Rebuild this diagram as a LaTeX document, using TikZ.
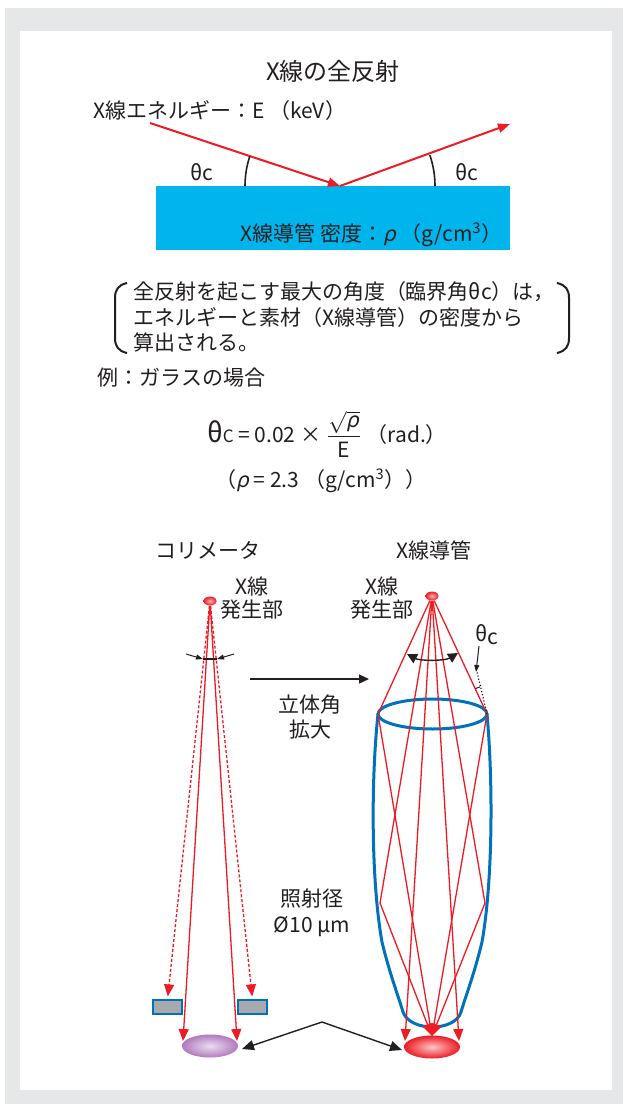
\documentclass[tikz,border=0pt]{standalone}
\usepackage{amsmath}
\usepackage{fontspec}
\setmainfont{Noto Sans CJK JP}[AutoFakeSlant=0.2]
\usetikzlibrary{arrows.meta,shapes.geometric}

\definecolor{ink}{RGB}{35,31,32}
\definecolor{rayred}{RGB}{237,28,36}
\definecolor{glasscyan}{RGB}{0,180,236}
\definecolor{tubeblue}{RGB}{0,114,188}
\definecolor{blockgray}{RGB}{167,169,172}
\definecolor{framegray}{RGB}{230,231,232}
\definecolor{spotpurple}{RGB}{176,122,190}

\tikzset{
  beam/.style={draw=rayred, line width=1pt, -{Triangle[length=6pt,width=4.5pt]}},
  ray/.style={draw=rayred, line width=0.65pt},
  redtip/.style={-{Triangle[length=6pt,width=5pt]}},
  dots/.style={dash pattern=on 1.5pt off 1pt},
  tube/.style={draw=tubeblue, line width=1.5pt},
  guide/.style={fill=glasscyan, minimum width=177pt, minimum height=32pt},
  block/.style={draw=tubeblue, fill=blockgray, line width=0.6pt, minimum width=14.5pt, minimum height=7pt},
  source/.style={ellipse, minimum width=6.5pt, minimum height=4.5pt, shading=radial, inner color=rayred!35!white, outer color=rayred},
  spot/.style={ellipse, minimum width=28pt, minimum height=11.5pt},
  anglemark/.style={draw=ink, line width=0.8pt},
  bigtip/.style={-{Triangle[length=6pt,width=5pt]}},
  smalltip/.style={-{Triangle[length=3.5pt,width=2.5pt]}},
}

\begin{document}
\begin{tikzpicture}[x=0.5pt,y=-0.5pt,
  every node/.style={font=\fontsize{10.5}{12.5}\selectfont, text=ink, inner sep=0pt}]

% frame
\useasboundingbox (0,0) rectangle (629,1113);
\fill[framegray] (5,8) rectangle (623,1104);
\fill[white] (20,31) rectangle (612,1090);

% --- total reflection ---
\node[font=\fontsize{12}{14}\selectfont] (title) at (333,71) {X線の全反射};
\node[anchor=west] (energy) at (93,111) {X線エネルギー：E （keV）};
\node[guide] (glass) at (333,218) {};
\node[anchor=east] (density) at (503,235) {X線導管 密度：\textit{ρ} （g/cm\textsuperscript{3}）};

\coordinate (hit) at (340,186);
\coordinate (xin) at (150,123);
\coordinate (xout) at (510,124);
\draw[beam] (xin) -- (hit);
\draw[beam] (hit) -- (xout);
\draw[anglemark] (hit) ++(180:95) arc[start angle=180, end angle=198.3, radius=95];
\draw[anglemark] (hit) ++(0:95) arc[start angle=0, end angle=-19, radius=95];
\node (thL) at (202,172) {θc};
\node (thR) at (467,172) {θc};

% note in brackets
\node[anchor=west, align=left, font=\fontsize{10.5}{12.75}\selectfont] (note) at (133,317)
  {全反射を起こす最大の角度（臨界角θc）は，\\エネルギーと素材（X線導管）の密度から\\算出される。};
\draw[anglemark, line width=1pt] (127,283) .. controls (118,285) and (115,290) .. (115,298) -- (115,338)
  .. controls (115,346) and (118,351) .. (127,353);
\draw[anglemark, line width=1pt] (557,283) .. controls (566,285) and (569,290) .. (569,298) -- (569,338)
  .. controls (569,346) and (566,351) .. (557,353);

\node[anchor=west] (example) at (97,378) {例：ガラスの場合};
\node (formula) at (327,434) {{\fontsize{13.5}{14}\selectfont θ}{\fontsize{8.5}{9}\selectfont C} = 0.02 × $\dfrac{\sqrt{\text{\itshape ρ}}}{\text{E}}$ （rad.）};
\node (glassrho) at (321,481) {（\textit{ρ} = 2.3 （g/cm\textsuperscript{3}））};

% --- collimator ---
\node (colli) at (208,550) {コリメータ};
\node[align=center, font=\fontsize{10.5}{11.5}\selectfont] (gen1) at (252,598) {X線\\発生部};
\node[block] (blk1) at (167.5,1007) {};
\node[block] (blk2) at (252.5,1007) {};
\node[spot, shading=radial, inner color=spotpurple!25!white, outer color=spotpurple] (spot1) at (210,1046) {};
\node[source] (src1) at (210,601) {};

\coordinate (c1) at (183,1041);
\coordinate (c2) at (237,1041);
\draw[ray, redtip] (src1) -- (c1);
\draw[ray, redtip] (src1) -- (c2);
\draw[ray, dots, redtip, shorten >=1.5pt] (src1) -- (blk1.north);
\draw[ray, dots, redtip, shorten >=1.5pt] (src1) -- (blk2.north);

\coordinate (apL) at (186,654);
\coordinate (apR) at (234,654);
\coordinate (gapL) at (203,659);
\coordinate (gapR) at (217,659);
\draw[draw=ink, line width=0.5pt, smalltip] (apL) -- (gapL);
\draw[draw=ink, line width=0.5pt, smalltip] (apR) -- (gapR);
\draw[draw=ink, line width=0.6pt] (gapL) -- (gapR);

% --- middle ---
\coordinate (ma) at (250,679);
\coordinate (mb) at (369,679);
\draw[draw=ink, line width=0.6pt, -{Triangle[length=5pt,width=4.5pt]}] (ma) -- (mb);
\node[align=center] (solid) at (310,717) {立体角\\拡大};
\node[align=center, font=\fontsize{10.5}{13}\selectfont] (diam) at (312,913) {照射径\\Ø10 µm};

% --- X-ray guide tube ---
\node (guidett) at (434,550) {X線導管};
\node[align=center, font=\fontsize{10.5}{11.5}\selectfont] (gen2) at (382,598) {X線\\発生部};
\draw[tube] (378,714) .. controls (371,780) and (371,880) .. (382,942)
  .. controls (390,975) and (398,995) .. (403,1012)
  .. controls (410,1032) and (455,1032) .. (461,1012)
  .. controls (466,995) and (474,975) .. (482,942)
  .. controls (493,880) and (493,780) .. (487,714);
\draw[tube] (432.5,714) ellipse[x radius=54.5, y radius=15];
\node[spot, shading=radial, inner color=rayred!25!white, outer color=rayred] (spot2) at (432,1047) {};
\node[source] (src2) at (432,596) {};

\coordinate (rimL) at (378,714);
\coordinate (rimR) at (487,714);
\coordinate (wallL) at (380,903);
\coordinate (wallR) at (485,903);
\coordinate (focus) at (432,1036);
\coordinate (endL) at (405,1041);
\coordinate (endR) at (459,1041);
\foreach \p in {rimL,rimR,wallL,wallR}
  \draw[ray, redtip] (src2) -- (\p) -- (focus);
\draw[ray, redtip] (src2) -- (endL);
\draw[ray, redtip] (src2) -- (endR);

% cone angle and critical angle
\coordinate (coneL) at (407,654);
\coordinate (coneR) at (458,653);
\draw[draw=ink, line width=0.7pt, {Triangle[length=5pt,width=5pt]}-{Triangle[length=5pt,width=5pt]}]
  (coneL) .. controls (420,661) and (445,661) .. (coneR);
\coordinate (wallTop) at (477,672);
\draw[draw=ink, line width=0.6pt, densely dotted] (rimR) -- (wallTop);
\draw[draw=ink, line width=0.5pt] (rimR) ++(245:28) arc[start angle=245, end angle=256, radius=28];
\node (thC) at (487,635) {θ\raisebox{-1.5pt}{c}};
\coordinate (qa) at (479,646);
\coordinate (qb) at (476,672);
\draw[draw=ink, line width=0.5pt, smalltip] (qa) -- (qb);

% comparison of spots
\coordinate (sA) at (242,1049);
\coordinate (apex) at (322,1022);
\coordinate (sB) at (402,1050);
\draw[draw=ink, line width=0.7pt, bigtip] (apex) -- (sA);
\draw[draw=ink, line width=0.7pt, bigtip] (apex) -- (sB);
\end{tikzpicture}
\end{document}
